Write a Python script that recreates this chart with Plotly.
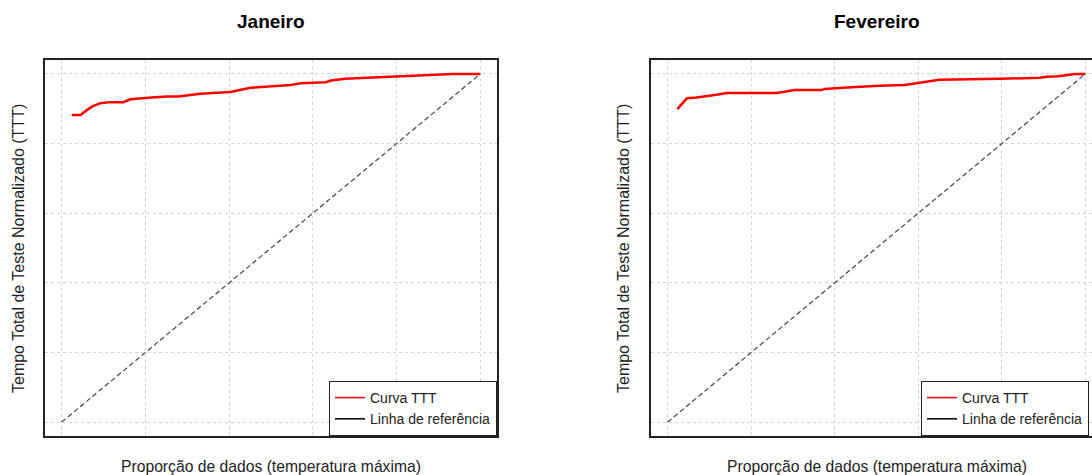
import plotly.graph_objects as go

# ---- data ----
jan_x = [0.024, 0.045, 0.058, 0.072, 0.092, 0.116, 0.147, 0.164, 0.215, 0.251, 0.279, 0.299,
         0.331, 0.403, 0.427, 0.451, 0.547, 0.571, 0.631, 0.643, 0.678, 0.745, 0.815, 0.865,
         0.935, 1.0]
jan_y = [0.882, 0.882, 0.894, 0.906, 0.916, 0.919, 0.919, 0.927, 0.932, 0.935, 0.935, 0.938,
         0.943, 0.948, 0.953, 0.960, 0.968, 0.973, 0.976, 0.981, 0.986, 0.989, 0.992, 0.996,
         1.0, 1.0]
fev_x = [0.023, 0.046, 0.069, 0.093, 0.117, 0.141, 0.260, 0.280, 0.304, 0.368, 0.376, 0.419,
         0.460, 0.507, 0.567, 0.651, 0.795, 0.891, 0.908, 0.935, 0.975, 1.0]
fev_y = [0.899, 0.930, 0.932, 0.935, 0.940, 0.945, 0.945, 0.949, 0.954, 0.954, 0.957, 0.960,
         0.963, 0.966, 0.968, 0.983, 0.986, 0.989, 0.992, 0.993, 1.0, 1.0]
ref_x = [0, 1]
ref_y = [0, 1]
titles = ["Janeiro", "Fevereiro"]
xlabel = "Proporção de dados (temperatura máxima)"
ylabel = "Tempo Total de Teste Normalizado (TTT)"
legend_names = ["Curva TTT", "Linha de referência"]
grid_ticks = [0, 0.2, 0.4, 0.6, 0.8, 1.0]

W, H = 1092, 475
FONT = "Liberation Sans, Arial, sans-serif"

fig = go.Figure()

panels = [
    dict(x=jan_x, y=jan_y, xa="x", ya="y", leg="legend"),
    dict(x=fev_x, y=fev_y, xa="x2", ya="y2", leg="legend2"),
]
for p in panels:
    fig.add_trace(go.Scatter(x=ref_x, y=ref_y, mode="lines", xaxis=p["xa"], yaxis=p["ya"],
                             line=dict(color="#444444", width=1.2, dash="5px,3px"),
                             showlegend=False))
    fig.add_trace(go.Scatter(x=p["x"], y=p["y"], mode="lines", xaxis=p["xa"], yaxis=p["ya"],
                             line=dict(color="#ff0000", width=2.5), showlegend=False))
    # legend entries (solid lines, as in the original legend)
    fig.add_trace(go.Scatter(x=[None], y=[None], mode="lines", xaxis=p["xa"], yaxis=p["ya"],
                             name=legend_names[0], legend=p["leg"],
                             line=dict(color="#ff0000", width=1.5)))
    fig.add_trace(go.Scatter(x=[None], y=[None], mode="lines", xaxis=p["xa"], yaxis=p["ya"],
                             name=legend_names[1], legend=p["leg"],
                             line=dict(color="#000000", width=1.5)))

px_unit = 417.6
left_box = (45, 497)
right_box = (651, 1103)
top, bottom = 60, 436
ydom = [1 - bottom / H, 1 - top / H]

def xrange_for(box, dom_right_px):
    x0px = box[0] + 0.04 * px_unit
    a = -(x0px - box[0]) / px_unit
    b = a + (dom_right_px - box[0]) / px_unit
    return [a, b]

axis_common = dict(showticklabels=False, ticks="", zeroline=False,
                   showgrid=True, gridcolor="#d3d3d3", griddash="dot", gridwidth=1,
                   tickvals=grid_ticks, linecolor="#222222", linewidth=1.5, showline=True)

fig.update_layout(
    xaxis=dict(domain=[left_box[0] / W, left_box[1] / W], range=[-0.04, 1.04], mirror=True,
               anchor="y", **axis_common),
    yaxis=dict(domain=ydom, range=[-0.04, 1.04], mirror=True, anchor="x", **axis_common),
    xaxis2=dict(domain=[right_box[0] / W, 1.0], range=xrange_for(right_box, W), mirror=True,
                anchor="y2", **axis_common),
    yaxis2=dict(domain=ydom, range=[-0.04, 1.04], mirror=False, anchor="x2", **axis_common),
)

fig.update_layout(
    width=W, height=H,
    margin=dict(l=0, r=0, t=0, b=0, autoexpand=False),
    paper_bgcolor="white", plot_bgcolor="white",
    font=dict(family=FONT, color="#000000"),
    legend=dict(x=left_box[1] / W, xanchor="right", y=1 - bottom / H, yanchor="bottom",
                bordercolor="#222222", borderwidth=1, bgcolor="white",
                font=dict(size=14, family=FONT, color="#222222"), tracegroupgap=0),
    legend2=dict(x=921 / W, xanchor="left", y=1 - bottom / H, yanchor="bottom",
                 bordercolor="#222222", borderwidth=1, bgcolor="white",
                 font=dict(size=14, family=FONT, color="#222222"), tracegroupgap=0),
)

ann = []
centers = [(left_box[0] + left_box[1]) / 2, (right_box[0] + right_box[1]) / 2]
ytitle_x = [18, 623]
for i in range(2):
    ann.append(dict(text="<b>%s</b>" % titles[i], x=centers[i] / W, y=1 - 22 / H, xref="paper",
                    yref="paper", showarrow=False, font=dict(size=19, family=FONT),
                    xanchor="center", yanchor="middle"))
    ann.append(dict(text=xlabel, x=centers[i] / W, y=1 - 466 / H, xref="paper", yref="paper",
                    showarrow=False, font=dict(size=15.7, family=FONT, color="#222222"),
                    xanchor="center", yanchor="middle"))
    ann.append(dict(text=ylabel, x=ytitle_x[i] / W, y=1 - 249 / H, xref="paper", yref="paper",
                    showarrow=False, textangle=-90,
                    font=dict(size=16, family=FONT, color="#222222"),
                    xanchor="center", yanchor="middle"))
fig.update_layout(annotations=ann)

fig.write_html("out.html")
